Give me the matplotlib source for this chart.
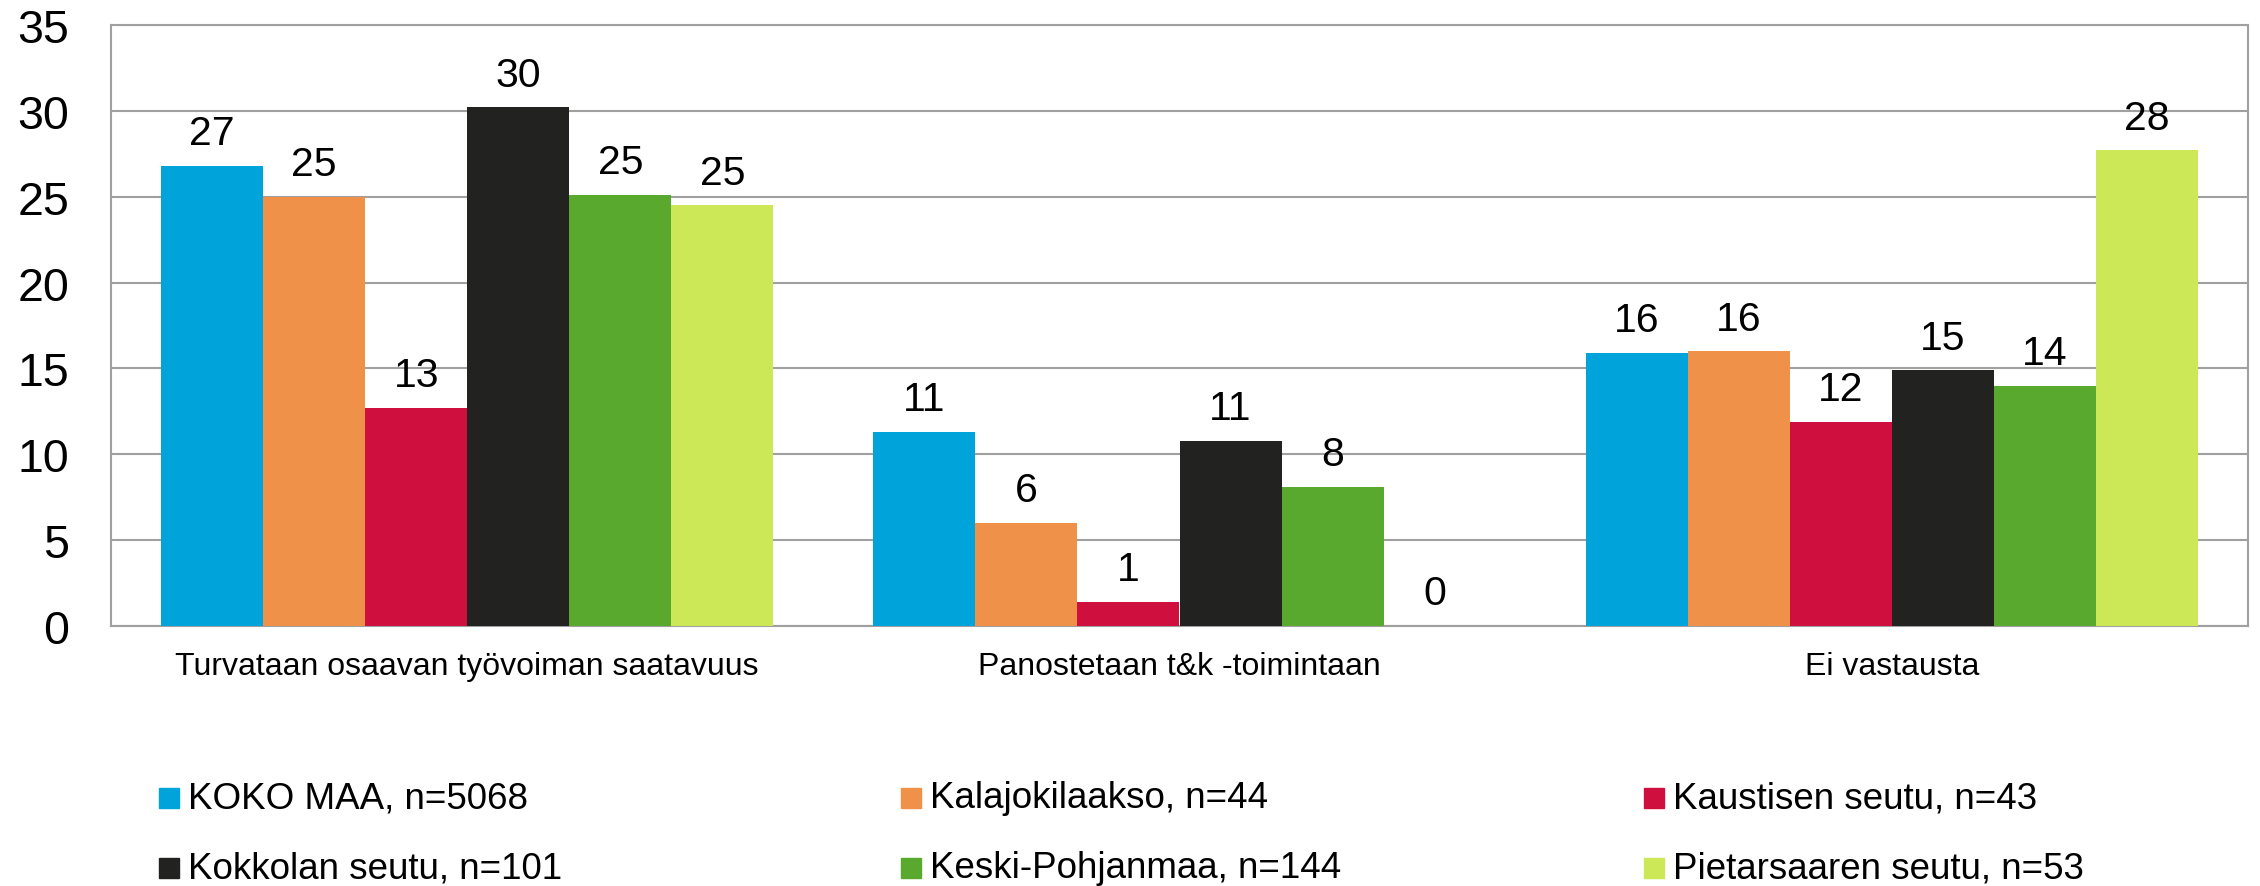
import numpy as np
import matplotlib
matplotlib.use("Agg")
import matplotlib.pyplot as plt
from matplotlib.patches import Rectangle

plt.rcParams['font.family'] = ['Liberation Sans', 'DejaVu Sans']

# Daten
categories = ["Turvataan osaavan työvoiman saatavuus",
              "Panostetaan t&k -toimintaan",
              "Ei vastausta"]
series = ["KOKO MAA, n=5068", "Kalajokilaakso, n=44", "Kaustisen seutu, n=43",
          "Kokkolan seutu, n=101", "Keski-Pohjanmaa, n=144", "Pietarsaaren seutu, n=53"]
koko_maa    = [26.8, 11.3, 15.9]
kalajoki    = [25.0, 6.0, 16.0]
kaustinen   = [12.7, 1.4, 11.9]
kokkola     = [30.2, 10.8, 14.9]
keski_pohj  = [25.1, 8.1, 14.0]
pietarsaari = [24.5, 0.0, 27.7]
values = [koko_maa, kalajoki, kaustinen, kokkola, keski_pohj, pietarsaari]
labels = [[27, 11, 16], [25, 6, 16], [13, 1, 12],
          [30, 11, 15], [25, 8, 14], [25, 0, 28]]
colors = ["#00A3DA", "#F0914A", "#CF0F3E", "#222220", "#58A92D", "#CDE856"]

fig = plt.figure(figsize=(22.6, 8.87), dpi=100)
ax = fig.add_axes([111/2260, 1-627/887, (2248-111)/2260, (627-26)/887])

x = np.arange(len(categories))
w = 0.1433
for i, (vals, col) in enumerate(zip(values, colors)):
    pos = x + (i - 2.5) * w
    ax.bar(pos, vals, width=w, color=col, zorder=3)
    for px, v, lab in zip(pos, vals, labels[i]):
        ax.annotate(str(lab), (px, v), xytext=(0, 15.5), textcoords="offset points",
                    ha="center", va="baseline", fontsize=29.5, zorder=4)

ax.set_xlim(-0.5, 2.5)
ax.set_ylim(0, 35)
ax.set_yticks(range(0, 36, 5))
ax.yaxis.grid(True, color="#a0a0a0", linewidth=1.5, zorder=0)
for s in ax.spines.values():
    s.set_color("#a0a0a0")
    s.set_linewidth(1.5)
ax.tick_params(axis="y", length=0, pad=30, labelsize=33.5)
ax.tick_params(axis="x", length=0, pad=18, labelsize=23)
ax.set_xticks(x)
ax.set_xticklabels(categories)

# Legende
col_x = [159, 901, 1644]
row_y = [799, 869]
for k, (name, col) in enumerate(zip(series, colors)):
    cx = col_x[k % 3]
    cy = row_y[k // 3]
    fig.patches.append(Rectangle((cx/2260, 1-(cy+10)/887), 20/2260, 20/887,
                                 transform=fig.transFigure, color=col, figure=fig))
    fig.text((cx+29)/2260, 1-cy/887, name, fontsize=26.5, va="center", ha="left")

fig.savefig("out.png", dpi=100)
